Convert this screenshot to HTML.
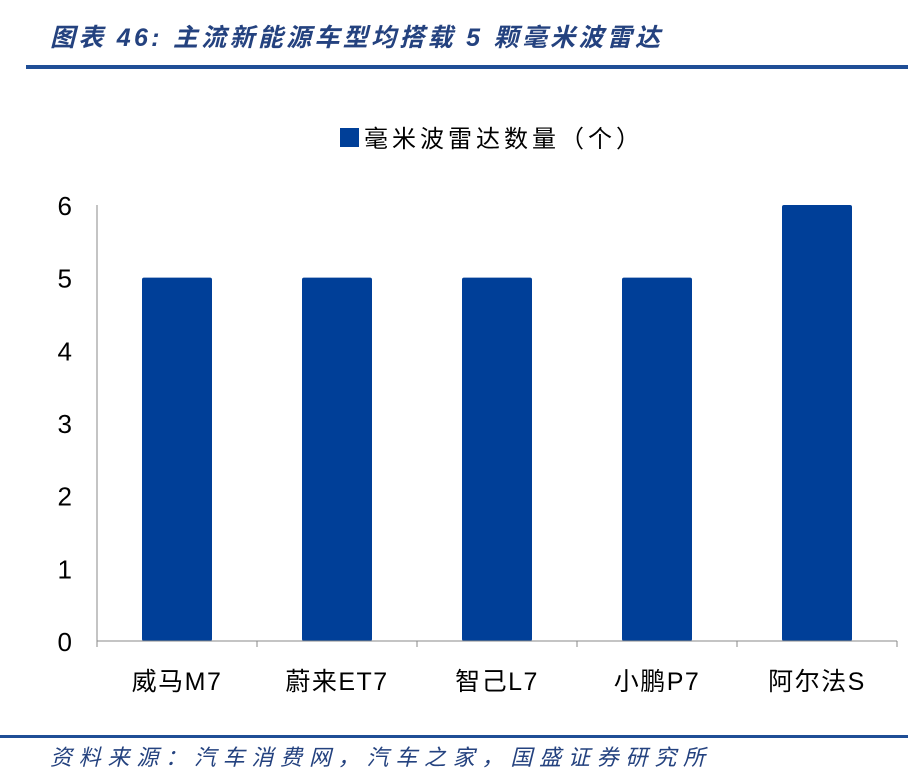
<!DOCTYPE html>
<html><head><meta charset="utf-8"><style>
body{margin:0;background:#fff;width:908px;height:779px;overflow:hidden;font-family:"Liberation Sans","Noto Sans CJK SC",sans-serif;}
</style></head><body>
<svg width="908" height="779" style="position:absolute;left:0;top:0">
<text x="50" y="46" font-size="25" font-style="italic" font-weight="bold" fill="#24427f" textLength="610" lengthAdjust="spacing">图表 46:  主流新能源车型均搭载 5 颗毫米波雷达</text>
<rect x="26" y="65" width="882" height="4" fill="#1f4e96"/>
<g>
<rect x="340" y="128" width="19" height="19" fill="#003f98"/>
<text x="364" y="147" font-size="24" fill="#000" textLength="276" lengthAdjust="spacing">毫米波雷达数量（个）</text>
</g>
<g id="plot"></g>
<rect x="0" y="735" width="908" height="3" fill="#1f4e96"/>
<text x="50" y="765" font-size="22" font-style="italic" fill="#24427f" textLength="655" lengthAdjust="spacing">资料来源：汽车消费网，汽车之家，国盛证券研究所</text>
</svg>
<script>
const categories=["威马M7","蔚来ET7","智己L7","小鹏P7","阿尔法S"];
const values=[5,5,5,5,6];
const yTicks=[0,1,2,3,4,5,6];
const NS="http://www.w3.org/2000/svg";
const g=document.getElementById('plot');
const x0=97,x1=897,y0=641,yTop=205,yMax=6;
const y=v=>y0-(y0-yTop)*v/yMax;
const bw=(x1-x0)/categories.length;
function mk(t,a){const e=document.createElementNS(NS,t);for(const k in a)e.setAttribute(k,a[k]);g.appendChild(e);return e;}
yTicks.forEach(t=>{
 const l=mk('text',{x:72,y:y(t)+10,'font-size':26,'text-anchor':'end',fill:'#000'});
 l.textContent=t;
 
 
});
categories.forEach((c,i)=>{
 const cx=x0+bw*(i+0.5);
 const r=mk('rect',{x:cx-35,y:y(values[i]),width:70,height:y0-y(values[i]),fill:'#003f98',rx:2});
 
 
 const t=mk('text',{x:cx,y:690,'font-size':25,'text-anchor':'middle',fill:'#000','letter-spacing':'1.5'});
 t.textContent=c;
 
 
});
for(let i=0;i<=categories.length;i++){
 const tk=mk('line',{x1:x0+bw*i,x2:x0+bw*i,y1:y0,y2:y0+6,stroke:'#888','stroke-width':1});
 
 
}
const ax=mk('line',{x1:x0,x2:x0,y1:yTop,y2:y0,stroke:'#888','stroke-width':1});


const xa=mk('line',{x1:x0,x2:x1,y1:y0,y2:y0,stroke:'#888','stroke-width':1});


</script>
</body></html>
